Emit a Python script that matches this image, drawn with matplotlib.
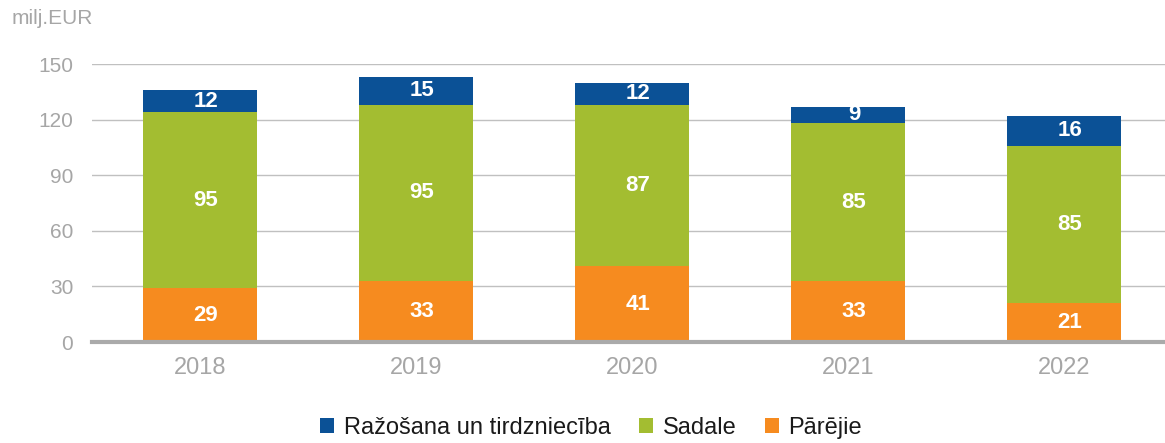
import matplotlib
matplotlib.use("Agg")
import matplotlib.pyplot as plt
from matplotlib.transforms import ScaledTranslation
import numpy as np

years = ["2018", "2019", "2020", "2021", "2022"]
parejie = [29, 33, 41, 33, 21]
sadale = [95, 95, 87, 85, 85]
razosana = [12, 15, 12, 9, 16]
series_names = ["Ražošana un tirdzniecība", "Sadale", "Pārējie"]
yticks = [0, 30, 60, 90, 120, 150]

c_blue = "#0b5196"
c_green = "#a3bd31"
c_orange = "#f68b1f"
gray = "#a6a6a6"

plt.rcParams['font.family'] = ['Liberation Sans', 'DejaVu Sans']

fig = plt.figure(figsize=(11.65, 4.43), dpi=100)
ax = fig.add_axes([92/1165, 101/443, (1172-92)/1165, (342-64)/443])

x = np.arange(len(years))
w = 0.525
bottom2 = np.array(parejie)
bottom3 = bottom2 + np.array(sadale)
b1 = ax.bar(x, parejie, w, color=c_orange, label=series_names[2], zorder=3)
b2 = ax.bar(x, sadale, w, bottom=bottom2, color=c_green, label=series_names[1], zorder=3)
b3 = ax.bar(x, razosana, w, bottom=bottom3, color=c_blue, label=series_names[0], zorder=3)

off = ax.transData + ScaledTranslation(6/100, 0, fig.dpi_scale_trans)
for bars, vals, bots in [(b1, parejie, np.zeros(5)), (b2, sadale, bottom2), (b3, razosana, bottom3)]:
    for xi, v, b in zip(x, vals, bots):
        ax.text(xi, b + v/2, str(v), ha='center', va='center', color='white',
                fontsize=16, fontweight='bold', zorder=4, transform=off)

ax.set_xlim(-0.5, 4.5)
ax.set_ylim(0, 150)
ax.set_yticks(yticks)
ax.set_yticklabels([str(t) for t in yticks])
ax.set_xticks(x)
ax.set_xticklabels(years)
ax.grid(axis='y', color='#c0c0c0', linewidth=1.0, zorder=0)
for s in ['top', 'right', 'left']:
    ax.spines[s].set_visible(False)
ax.spines['bottom'].set_color('#aaaaaa')
ax.spines['bottom'].set_linewidth(3)
ax.spines['bottom'].set_zorder(5)
ax.tick_params(axis='y', length=0, labelsize=15, labelcolor=gray, pad=13.5)
ax.tick_params(axis='x', length=0, labelsize=17, labelcolor=gray, pad=11)

fig.text(12/1165, 1 - 19/443, "milj.EUR", fontsize=15, color=gray, va='center', ha='left')

handles = [b3, b2, b1]
leg = fig.legend(handles, series_names, loc='center', bbox_to_anchor=(591/1165, 1 - 428/443),
                 ncol=3, frameon=False, fontsize=17, handlelength=0.6, handleheight=0.6,
                 handletextpad=0.4, columnspacing=1.2)
for t in leg.get_texts():
    t.set_color('#1a1a1a')

fig.savefig("out.png", dpi=100)
